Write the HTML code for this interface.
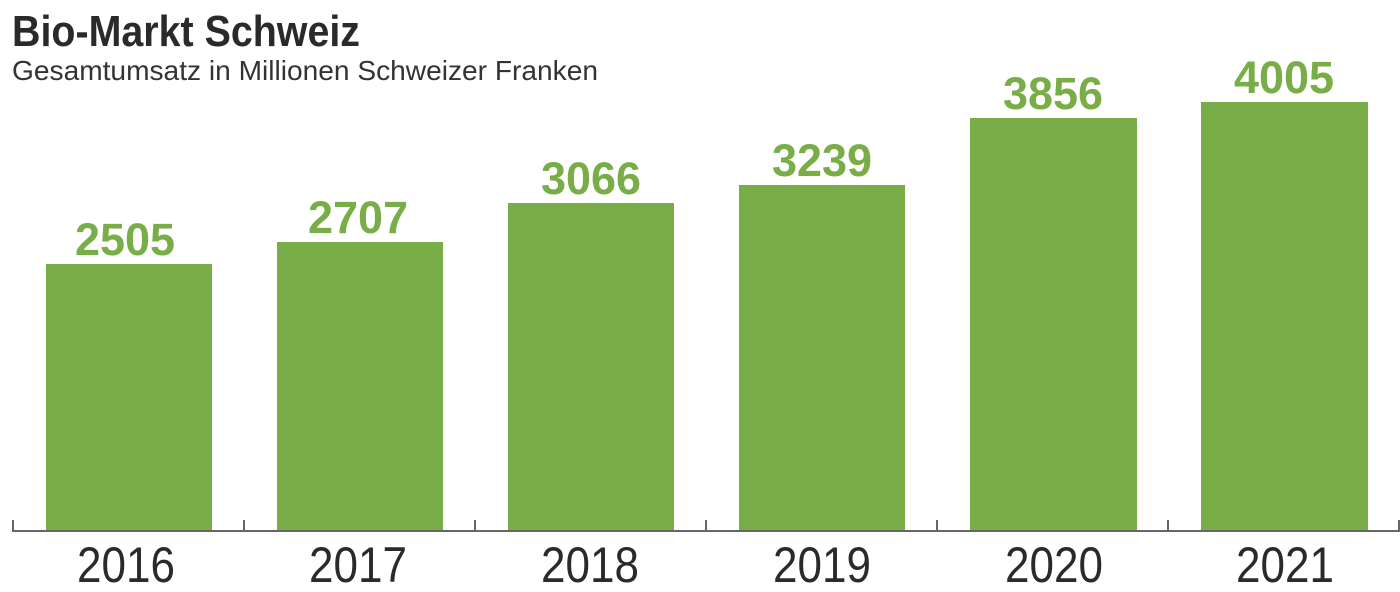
<!DOCTYPE html>
<html><head><meta charset="utf-8"><style>html,body{margin:0;padding:0;background:#fff;}svg{display:block}</style></head>
<body>
<svg width="1400" height="592" viewBox="0 0 1400 592" xmlns="http://www.w3.org/2000/svg" font-family="Liberation Sans, sans-serif">
<text x="12" y="46" font-size="44" font-weight="bold" fill="#2a2a2a" textLength="348" lengthAdjust="spacingAndGlyphs">Bio-Markt Schweiz</text>
<text x="12" y="80" font-size="28" fill="#333" textLength="586" lengthAdjust="spacingAndGlyphs">Gesamtumsatz in Millionen Schweizer Franken</text>
<g fill="#79ad47">
<rect x="46" y="264" width="166" height="267"/>
<rect x="277" y="242" width="166" height="289"/>
<rect x="508" y="203" width="166" height="328"/>
<rect x="739" y="185" width="166" height="346"/>
<rect x="970" y="118" width="167" height="413"/>
<rect x="1201" y="102" width="167" height="429"/>
</g>
<g fill="#79ad47" font-size="45" font-weight="bold" text-anchor="middle">
<text x="125" y="255" textLength="100" lengthAdjust="spacingAndGlyphs">2505</text>
<text x="358" y="233" textLength="100" lengthAdjust="spacingAndGlyphs">2707</text>
<text x="591" y="194" textLength="100" lengthAdjust="spacingAndGlyphs">3066</text>
<text x="822" y="176" textLength="100" lengthAdjust="spacingAndGlyphs">3239</text>
<text x="1053" y="109" textLength="100" lengthAdjust="spacingAndGlyphs">3856</text>
<text x="1284" y="93" textLength="100" lengthAdjust="spacingAndGlyphs">4005</text>
</g>
<g stroke="#666" stroke-width="2" fill="none">
<line x1="12" y1="531" x2="1400" y2="531"/>
<line x1="13" y1="520" x2="13" y2="531"/>
<line x1="244" y1="520" x2="244" y2="531"/>
<line x1="475" y1="520" x2="475" y2="531"/>
<line x1="706" y1="520" x2="706" y2="531"/>
<line x1="937" y1="520" x2="937" y2="531"/>
<line x1="1168" y1="520" x2="1168" y2="531"/>
<line x1="1399" y1="520" x2="1399" y2="531"/>
</g>
<g fill="#2a2a2a" font-size="50" text-anchor="middle">
<text x="126" y="582" textLength="98" lengthAdjust="spacingAndGlyphs">2016</text>
<text x="358" y="582" textLength="98" lengthAdjust="spacingAndGlyphs">2017</text>
<text x="590" y="582" textLength="98" lengthAdjust="spacingAndGlyphs">2018</text>
<text x="822" y="582" textLength="98" lengthAdjust="spacingAndGlyphs">2019</text>
<text x="1054" y="582" textLength="98" lengthAdjust="spacingAndGlyphs">2020</text>
<text x="1285" y="582" textLength="98" lengthAdjust="spacingAndGlyphs">2021</text>
</g>
</svg>
</body></html>
